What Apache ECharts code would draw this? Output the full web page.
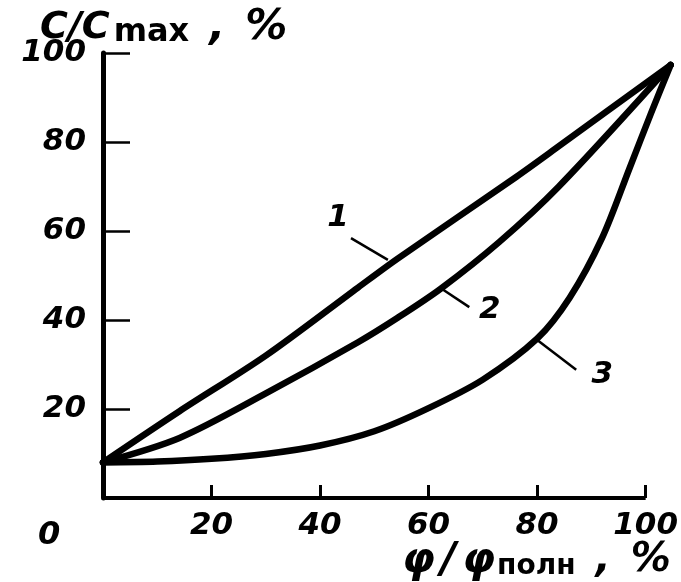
<!DOCTYPE html>
<html>
<head>
<meta charset="utf-8">
<script src="https://cdn.jsdelivr.net/npm/echarts@6/dist/echarts.min.js"></script>
<style>
  html, body { margin: 0; padding: 0; background: #fff; }
  #chart { width: 681px; height: 582px; }
</style>
</head>
<body>
<div id="chart"></div>
<script>
// значения: x = φ/φполн, %, y = C/Cmax, %
var curve1 = [[0, 8], [14.1, 19.5], [30, 32], [47, 47.3], [54.3, 53.8], [76.2, 72.2], [83.5, 78.6], [104.6, 97.3]];
var curve2 = [[0, 8], [14.1, 13.5], [30, 23.5], [47, 35], [54.3, 40.5], [62.2, 47], [73, 57.5], [84, 70], [104.6, 97.3]];
var curve3 = [[0, 8], [10, 8.2], [20, 8.8], [30, 9.9], [40, 11.8], [50, 15], [60, 20.2], [70, 26.6], [80, 35.8], [86, 45], [92, 58.5], [97, 74], [101, 86.5], [104.6, 97.3]];
var curveNames = ['1', '2', '3'];
var xTicks = [20, 40, 60, 80, 100];
var yTicks = [0, 20, 40, 60, 80, 100];
var xEnd = 105; // кривые сходятся чуть правее отметки 100

// выноски с номерами кривых (в координатах графика)
var leaders = [
  { from: [52.5, 53.5], to: [45.7, 58.4], text: [43.3, 62.9] },
  { from: [62.2, 47.2], to: [67.5, 42.9], text: [71.3, 42.2] },
  { from: [79.9, 35.6], to: [87.2, 28.8], text: [92.0, 27.6] }
];

var numFont = {
  fontFamily: 'DejaVu Sans',
  fontStyle: 'italic',
  fontWeight: 'bold',
  fontSize: 31,
  color: '#000'
};

var myChart = echarts.init(document.getElementById('chart'), null, { renderer: 'canvas' });

function makeSeries(data, idx, width) {
  var ld = leaders[idx];
  return {
    name: curveNames[idx],
    type: 'line',
    data: data,
    smooth: 0.3,
    clip: false,
    showSymbol: false,
    lineStyle: { color: '#000', width: width, cap: 'round', join: 'round' },
    markLine: {
      silent: true,
      symbol: 'none',
      label: { show: false },
      lineStyle: { color: '#000', width: 2.5, type: 'solid' },
      data: [[{ coord: ld.from }, { coord: ld.to }]]
    },
    markPoint: {
      silent: true,
      symbol: 'circle',
      symbolSize: 0,
      label: Object.assign({ show: true, position: 'inside', formatter: curveNames[idx] }, numFont),
      data: [{ coord: ld.text }]
    }
  };
}

var series = [
  makeSeries(curve1, 0, 6.5),
  makeSeries(curve2, 1, 6.5),
  makeSeries(curve3, 2, 6.5)
];
// ось абсцисс заканчивается на 100
series[0].markLine.data.push([
  { coord: [0, 0], lineStyle: { width: 4 } },
  { coord: [xTicks[xTicks.length - 1], 0] }
]);

var bi = { fontFamily: 'DejaVu Sans', fontStyle: 'italic', fontWeight: 'bold', fill: '#000' };

var option = {
  backgroundColor: '#fff',
  animation: false,
  grid: { left: 103, right: 3.6, top: 53, bottom: 84 },
  xAxis: {
    type: 'value',
    min: 0,
    max: xEnd,
    interval: 20,
    splitLine: { show: false },
    axisLine: { show: false },
    axisTick: { inside: true, length: 13, customValues: xTicks, lineStyle: { color: '#000', width: 3 } },
    axisLabel: Object.assign({ margin: 12, customValues: xTicks }, numFont)
  },
  yAxis: {
    type: 'value',
    min: yTicks[0],
    max: yTicks[yTicks.length - 1],
    interval: 20,
    splitLine: { show: false },
    axisLine: { lineStyle: { color: '#000', width: 5 } },
    axisTick: { inside: true, length: 27, lineStyle: { color: '#000', width: 2.5 } },
    axisLabel: Object.assign({
      margin: 17,
      formatter: function (v) { return v === 0 ? '' : String(v); }
    }, numFont)
  },
  graphic: [
    {
      type: 'text', left: 40, top: 7,
      style: {
        text: '{c|C/C}{m|max}{p|,}{p|%}',
        rich: {
          c: Object.assign({ fontSize: 38 }, bi),
          m: { fontFamily: 'DejaVu Sans', fontWeight: 'bold', fontSize: 32, fill: '#000', padding: [10, 0, 0, 4] },
          p: Object.assign({ fontSize: 42, padding: [0, 0, 0, 20] }, bi)
        }
      }
    },
    {
      type: 'text', left: 38, top: 520,
      style: { text: '0', font: 'italic bold 32px "DejaVu Sans"', fill: '#000' }
    },
    {
      type: 'text', left: 402, top: 540,
      style: {
        text: '{c|φ}{s|/}{c|φ}{m|полн}{p|,}{p|%}',
        rich: {
          c: Object.assign({ fontSize: 42 }, bi),
          s: Object.assign({ fontSize: 42, padding: [0, 6, 0, 6] }, bi),
          m: { fontFamily: 'DejaVu Sans', fontWeight: 'bold', fontSize: 28, fill: '#000', padding: [12, 0, 0, 2] },
          p: Object.assign({ fontSize: 40, padding: [0, 0, 0, 20] }, bi)
        }
      }
    }
  ],
  series: series
};

myChart.setOption(option);
</script>
</body>
</html>
